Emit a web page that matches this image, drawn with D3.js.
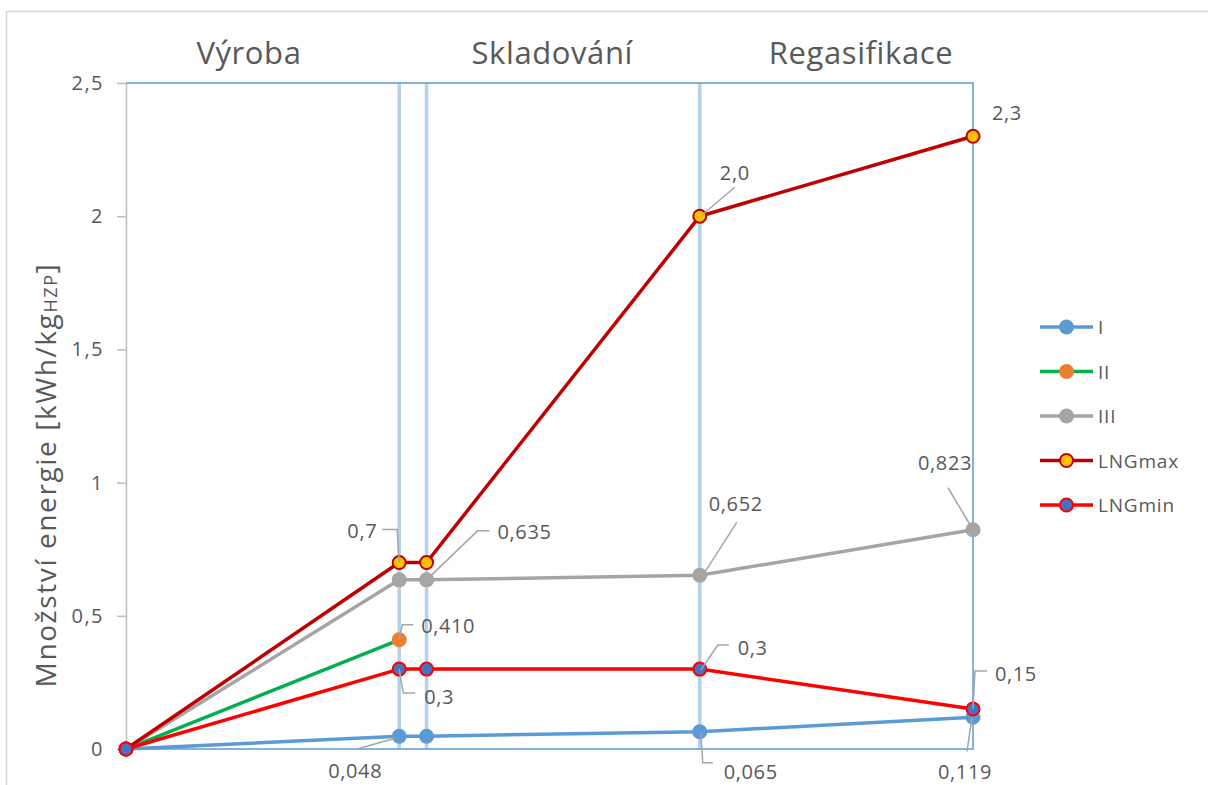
<!DOCTYPE html>
<html>
<head>
<meta charset="utf-8">
<script src="https://cdn.jsdelivr.net/npm/d3@7"></script>
<style>
  body { margin: 0; background: #fff; }
  svg { display: block; font-family: "Open Sans", sans-serif; }
</style>
</head>
<body>
<svg id="chart" width="1208" height="785"></svg>
<script>
// Process steps along the chain (position on the horizontal axis)
const steps = [0, 10, 11, 21, 31];

// Energy demand per step [kWh/kg]
const seriesI      = [0, 0.048, 0.048, 0.065, 0.119];
const seriesII     = [0, 0.410];
const seriesIII    = [0, 0.635, 0.635, 0.652, 0.823];
const seriesLNGmax = [0, 0.7, 0.7, 2.0, 2.3];
const seriesLNGmin = [0, 0.3, 0.3, 0.3, 0.15];

const seriesNames = ["I", "II", "III", "LNGmax", "LNGmin"];
const yTicks = [0, 0.5, 1, 1.5, 2, 2.5];
const stageNames = ["Výroba", "Skladování", "Regasifikace"];
const dividerSteps = [10, 11, 21];

// Value labels: series, point index, decimals shown
const valueLabels = [
  { s: "LNGmax", i: 1, dec: 1 },
  { s: "II",     i: 1, dec: 3 },
  { s: "LNGmin", i: 1, dec: 1 },
  { s: "I",      i: 1, dec: 3 },
  { s: "III",    i: 2, dec: 3 },
  { s: "LNGmax", i: 3, dec: 1 },
  { s: "III",    i: 3, dec: 3 },
  { s: "LNGmin", i: 3, dec: 1 },
  { s: "I",      i: 3, dec: 3 },
  { s: "LNGmax", i: 4, dec: 1 },
  { s: "III",    i: 4, dec: 3 },
  { s: "LNGmin", i: 4, dec: 2 },
  { s: "I",      i: 4, dec: 3 }
];

// ---- styling / layout ----
const styles = {
  I:      { line: "#5b9bd5", fill: "#5b9bd5", stroke: "#5b9bd5", sw: 0 },
  II:     { line: "#00b050", fill: "#ed7d31", stroke: "#ed7d31", sw: 0 },
  III:    { line: "#a5a5a5", fill: "#a5a5a5", stroke: "#a5a5a5", sw: 0 },
  LNGmax: { line: "#c00000", fill: "#ffc000", stroke: "#c00000", sw: 2 },
  LNGmin: { line: "#ff0000", fill: "#4472c4", stroke: "#ff0000", sw: 2 }
};
const seriesData = {
  I: seriesI, II: seriesII, III: seriesIII, LNGmax: seriesLNGmax, LNGmin: seriesLNGmin
};
// leader paths and text offsets (pixels relative to the point)
const labelLayout = [
  { path: [[0,0],[-2,-33],[-17,-33]], t: [-22,-32], a: "end" },
  { path: [[0,0],[3,-15],[14,-15]],   t: [22,-14],  a: "start" },
  { path: [[0,0],[4,24],[16,24]],     t: [25,27],   a: "start" },
  { path: [[-4,2],[-43,13]],          t: [-44,34],  a: "middle" },
  { path: [[0,0],[51,-49],[63,-49]],  t: [71,-48],  a: "start" },
  { path: [[2,-1],[35,-29]],          t: [35,-44],  a: "middle" },
  { path: [[3,0],[37,-53]],           t: [36,-72],  a: "middle" },
  { path: [[1,1],[18,-24],[29,-24]],  t: [38,-22],  a: "start" },
  { path: [[1,1],[3,31],[13,31]],     t: [24,40],   a: "start" },
  { path: null,                       t: [34,-24],  a: "middle" },
  { path: [[0,0],[-25,-42]],          t: [-28,-67], a: "middle" },
  { path: [[0,0],[2,-38],[14,-38]],   t: [22,-36],  a: "start" },
  { path: [[-1,0],[-6,34]],           t: [-8,54],   a: "middle" }
];
const stageCenters = [4.5, 15.6, 26.9];

const textColor = "#595959";
const svg = d3.select("#chart");
const margin = { left: 126, right: 1208 - 973, top: 83, bottom: 785 - 749 };
const W = 1208, H = 785;

const x = d3.scaleLinear().domain([0, 31]).range([margin.left, W - margin.right]);
const y = d3.scaleLinear().domain([0, 2.5]).range([H - margin.bottom, margin.top]);

const cz = d3.formatLocale({ decimal: ",", thousands: " ", grouping: [3], currency: ["", " Kč"] });

// outer chart border
svg.append("rect")
  .attr("x", 6.5).attr("y", 11.5).attr("width", 1400).attr("height", 1000)
  .attr("fill", "none").attr("stroke", "#d9d9d9").attr("stroke-width", 1.5);

// stage dividers
svg.append("g").selectAll("line").data(dividerSteps).join("line")
  .attr("x1", d => x(d)).attr("x2", d => x(d))
  .attr("y1", y(2.5)).attr("y2", y(0))
  .attr("stroke", "#b4d2ec").attr("stroke-width", 3.5);

// plot frame (top, right, bottom)
svg.append("path")
  .attr("d", `M${x(0)},${y(2.5)}H${x(31)}V${y(0)}H${x(0)}`)
  .attr("fill", "none").attr("stroke", "#5b9bd5").attr("stroke-width", 1.5);

// y axis
const yAxis = d3.axisLeft(y).tickValues(yTicks)
  .tickFormat(d => cz.format(d % 1 === 0 ? ".0f" : ".1f")(d))
  .tickSizeInner(9).tickSizeOuter(0).tickPadding(13);
const gy = svg.append("g").attr("transform", `translate(${x(0)},0)`).call(yAxis);
gy.select(".domain").attr("stroke", "#bfbfbf").attr("stroke-width", 1.5);
gy.selectAll(".tick line").attr("stroke", "#bfbfbf").attr("stroke-width", 1.5);
gy.selectAll(".tick text").attr("fill", textColor)
  .style("font-size", "20px").style("letter-spacing", "1.5px")
  .style("font-family", "'Open Sans', sans-serif");

// stage titles
svg.append("g").selectAll("text").data(stageNames).join("text")
  .attr("x", (d, i) => x(stageCenters[i])).attr("y", 52)
  .attr("text-anchor", "middle").attr("dominant-baseline", "central")
  .attr("fill", textColor).style("font-size", "31px").style("letter-spacing", "0.6px")
  .text(d => d);

// y title
const yt = svg.append("text")
  .attr("transform", "translate(45,475) rotate(-90)")
  .attr("text-anchor", "middle").attr("dominant-baseline", "central")
  .attr("fill", textColor).style("font-size", "28px").style("letter-spacing", "1.6px");
yt.append("tspan").text("Množství energie [kWh/kg");
yt.append("tspan").attr("baseline-shift", "-25%").style("font-size", "18px").text("HZP");
yt.append("tspan").text("]");

// series lines and markers
const line = d3.line().x((d, i) => x(steps[i])).y(d => y(d));
seriesNames.forEach(name => {
  const vals = seriesData[name], st = styles[name];
  const g = svg.append("g");
  g.append("path").datum(vals).attr("d", line)
    .attr("fill", "none").attr("stroke", st.line).attr("stroke-width", 3.5)
    .attr("stroke-linejoin", "round");
  g.selectAll("circle").data(vals).join("circle")
    .attr("cx", (d, i) => x(steps[i])).attr("cy", d => y(d))
    .attr("r", st.sw ? 6.5 : 7.5)
    .attr("fill", st.fill).attr("stroke", st.stroke).attr("stroke-width", st.sw);
});

// value labels with leader lines
const gl = svg.append("g");
valueLabels.forEach((lab, k) => {
  const v = seriesData[lab.s][lab.i];
  const px = x(steps[lab.i]), py = y(v);
  const lay = labelLayout[k];
  if (lay.path) {
    gl.append("path")
      .attr("d", d3.line()(lay.path.map(p => [px + p[0], py + p[1]])))
      .attr("fill", "none").attr("stroke", "#a6a6a6").attr("stroke-width", 1.5);
  }
  gl.append("text")
    .attr("x", px + lay.t[0]).attr("y", py + lay.t[1])
    .attr("text-anchor", lay.a).attr("dominant-baseline", "central")
    .attr("fill", textColor).style("font-size", "20px").style("letter-spacing", "0.6px")
    .text(cz.format("." + lab.dec + "f")(v));
});

// legend
const legend = svg.append("g").attr("transform", "translate(1040,327)");
seriesNames.forEach((name, i) => {
  const st = styles[name];
  const g = legend.append("g").attr("transform", `translate(0,${i * 44.5})`);
  g.append("line").attr("x1", 0).attr("x2", 53).attr("y1", 0).attr("y2", 0)
    .attr("stroke", st.line).attr("stroke-width", 3.5);
  g.append("circle").attr("cx", 26.5).attr("cy", 0).attr("r", st.sw ? 6.5 : 7.5)
    .attr("fill", st.fill).attr("stroke", st.stroke).attr("stroke-width", st.sw);
  g.append("text").attr("x", 58).attr("y", 0).attr("dominant-baseline", "central")
    .attr("fill", textColor).style("font-size", "19px").style("letter-spacing", "0.8px")
    .text(name);
});
</script>
</body>
</html>
